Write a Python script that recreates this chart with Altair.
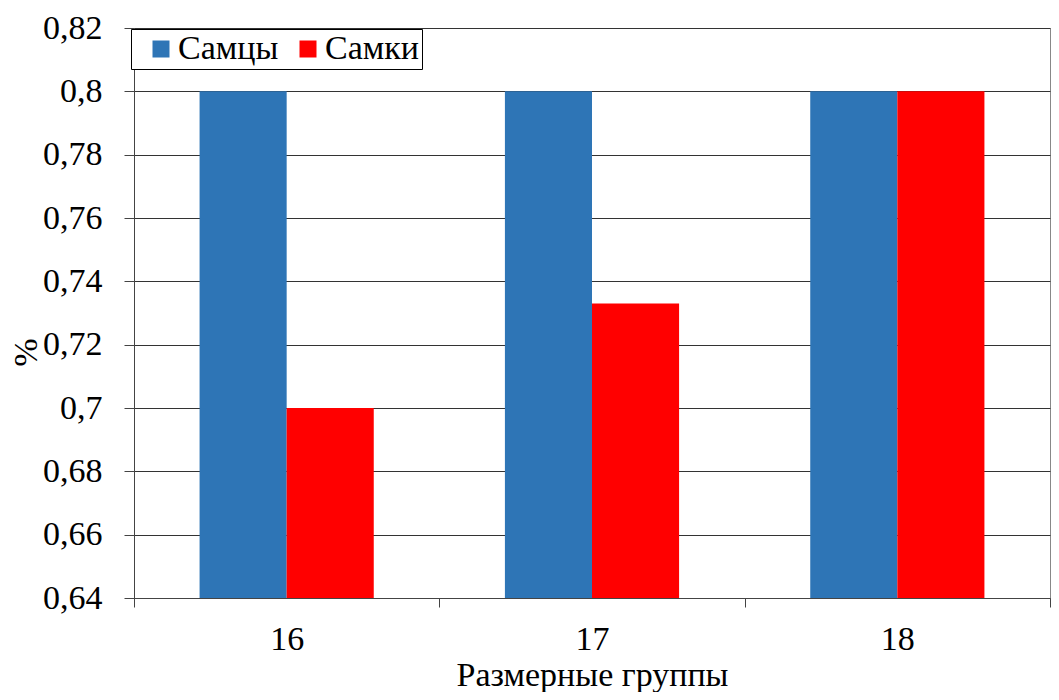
import altair as alt
import pandas as pd

groups = ["16", "17", "18"]
series = ["Самцы", "Самки"]
males = [0.8, 0.8, 0.8]
females = [0.7, 0.733, 0.8]
colors = ["#2E75B6", "#FF0000"]
y_ticks = [0.64, 0.66, 0.68, 0.70, 0.72, 0.74, 0.76, 0.78, 0.80, 0.82]
y_min = 0.64
y_max = 0.82

rows = []
for g, m, f in zip(groups, males, females):
    rows.append({"group": g, "series": series[0], "value": m})
    rows.append({"group": g, "series": series[1], "value": f})
df = pd.DataFrame(rows)

FONT = "Times New Roman"
FS = 34

chart = alt.Chart(df).mark_bar(clip=True).encode(
    x=alt.X(
        "group:N", sort=groups, title="Размерные группы",
        scale=alt.Scale(paddingInner=0, paddingOuter=0),
        axis=alt.Axis(
            labelAngle=0, tickBand="extent", tickSize=9, labelPadding=42,
            labelBaseline="alphabetic", labelFont=FONT, labelFontSize=FS,
            labelColor="black", titleFont=FONT, titleFontSize=FS,
            titleFontWeight="normal", titleColor="black", titleY=87,
            titleBaseline="alphabetic", domainColor="#444", tickColor="#444",
            grid=False,
        ),
    ),
    xOffset=alt.XOffset(
        "series:N", sort=series,
        scale=alt.Scale(paddingOuter=0.753, paddingInner=0),
    ),
    y=alt.Y(
        "value:Q", title="%",
        scale=alt.Scale(domain=[y_min, y_max], nice=False, zero=False),
        axis=alt.Axis(
            values=y_ticks,
            labelExpr="replace(format(datum.value, '.2~f'), '.', ',')",
            labelFont=FONT, labelFontSize=FS, labelColor="black",
            labelPadding=22, tickSize=10, tickColor="#444", domainColor="#444",
            gridColor="#333", gridWidth=1,
            titleFont=FONT, titleFontSize=FS, titleFontWeight="normal",
            titleColor="black", titleX=-108, titleY=324, titleAngle=270,
            titleBaseline="middle", titleAlign="center",
        ),
    ),
    y2=alt.datum(y_min),
    color=alt.Color(
        "series:N", sort=series,
        scale=alt.Scale(domain=series, range=colors),
        legend=alt.Legend(
            title=None, orient="none", legendX=-3, legendY=1,
            direction="horizontal", symbolType="square", symbolSize=289,
            symbolStrokeWidth=0, symbolOpacity=1, symbolOffset=10,
            labelFont=FONT, labelFontSize=FS, labelColor="black",
            labelOffset=0, columnPadding=2, padding=3,
            strokeColor="black", fillColor="white",
        ),
    ),
).properties(
    width=916, height=570,
    padding={"left": 126, "top": 20, "right": 1, "bottom": 94},
    autosize=alt.AutoSizeParams(type="none"),
).configure_view(stroke="#888", strokeWidth=1)

chart.save("out.html", embed_options={"renderer": "svg", "actions": False})
